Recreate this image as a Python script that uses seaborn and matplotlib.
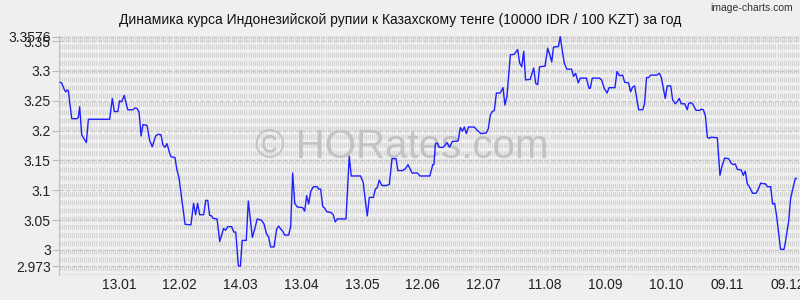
import numpy as np
import pandas as pd
import matplotlib
matplotlib.use("Agg")
import matplotlib.pyplot as plt
import seaborn as sns

# ---- data ----
start_date = "2024-12-15"
days = [0.0, 0.8, 2.1, 2.8, 3.5, 4.1, 5.8, 8.4, 9.0, 9.7, 10.7, 13.0, 14.0, 24.5, 25.8, 26.8,
        28.5, 29.4, 30.4, 31.7, 33.4, 36.0, 37.0, 38.0, 39.0, 40.0, 40.9, 42.9, 44.2, 45.5,
        47.2, 48.5, 49.8, 50.8, 51.8, 52.8, 54.1, 54.8, 56.7, 57.7, 58.7, 61.7, 64.6, 65.9,
        66.9, 67.9, 68.9, 70.9, 71.9, 72.9, 73.8, 74.8, 75.5, 77.5, 78.8, 80.7, 81.7, 82.7,
        84.7, 85.7, 86.7, 88.0, 89.0, 89.9, 91.9, 92.9, 94.9, 96.0, 97.3, 99.3, 100.6, 101.9,
        102.9, 103.9, 105.6, 106.9, 107.9, 108.9, 109.8, 110.8, 112.8, 113.8, 114.8, 115.8,
        117.1, 119.7, 120.7, 121.7, 122.7, 123.7, 125.0, 126.9, 127.6, 128.6, 129.6, 130.6,
        131.6, 133.5, 134.8, 135.8, 136.8, 141.1, 142.7, 143.7, 148.3, 149.6, 150.6, 151.6,
        152.6, 154.6, 155.6, 156.5, 157.5, 158.8, 161.2, 162.5, 163.8, 165.8, 166.7, 169.0,
        170.4, 171.7, 173.7, 176.3, 177.6, 182.5, 183.9, 184.5, 185.2, 186.2, 187.1, 189.1,
        191.0, 192.2, 193.6, 195.9, 196.5, 197.5, 198.5, 199.5, 200.5, 201.5, 204.4, 205.7,
        207.7, 210.3, 211.3, 212.3, 213.3, 214.3, 215.3, 217.2, 218.6, 219.5, 220.5, 222.2,
        224.1, 225.8, 226.8, 227.8, 228.8, 229.7, 232.0, 233.7, 234.7, 235.7, 236.6, 239.3,
        240.6, 241.6, 242.6, 243.5, 245.9, 246.8, 247.5, 248.8, 250.1, 252.4, 253.4, 254.4,
        255.7, 256.7, 259.7, 261.0, 261.6, 262.6, 266.2, 267.2, 268.5, 269.9, 270.9, 273.8,
        274.8, 276.1, 277.6, 278.6, 280.5, 281.5, 282.5, 283.5, 285.5, 287.5, 288.4, 289.4,
        290.4, 291.4, 294.4, 295.7, 296.7, 297.7, 298.6, 299.6, 301.3, 302.3, 303.6, 304.6,
        305.5, 306.5, 308.2, 308.8, 309.5, 310.1, 311.1, 312.1, 313.8, 315.7, 316.4, 317.4,
        318.4, 319.4, 320.3, 321.3, 324.3, 325.6, 326.6, 327.9, 329.9, 331.2, 332.2, 333.2,
        334.2, 336.1, 337.1, 338.1, 339.1, 340.1, 341.7, 343.4, 344.4, 345.7, 347.0, 348.0,
        349.0, 350.6, 351.6, 352.6, 353.6, 355.5, 357.2, 357.8, 359.5, 360.5, 361.8, 362.8,
        363.4]
rates = [3.281, 3.280, 3.269, 3.265, 3.268, 3.267, 3.220, 3.220, 3.222, 3.240, 3.193, 3.180,
         3.219, 3.219, 3.254, 3.232, 3.232, 3.250, 3.248, 3.259, 3.235, 3.235, 3.238, 3.237,
         3.231, 3.191, 3.210, 3.209, 3.184, 3.173, 3.191, 3.194, 3.193, 3.176, 3.172, 3.178,
         3.162, 3.156, 3.155, 3.134, 3.121, 3.043, 3.042, 3.078, 3.059, 3.078, 3.059, 3.059,
         3.083, 3.083, 3.058, 3.057, 3.053, 3.052, 3.014, 3.036, 3.033, 3.039, 3.039, 3.030,
         3.030, 2.973, 2.973, 3.016, 3.016, 3.082, 3.021, 3.034, 3.052, 3.050, 3.044, 3.027,
         3.022, 3.005, 3.005, 3.035, 3.040, 3.035, 3.032, 3.025, 3.025, 3.039, 3.129, 3.078,
         3.072, 3.071, 3.065, 3.091, 3.077, 3.098, 3.106, 3.106, 3.102, 3.102, 3.073, 3.070,
         3.064, 3.063, 3.059, 3.047, 3.052, 3.052, 3.157, 3.124, 3.124, 3.113, 3.084, 3.057,
         3.088, 3.088, 3.102, 3.104, 3.117, 3.108, 3.108, 3.110, 3.153, 3.153, 3.133, 3.133,
         3.136, 3.143, 3.129, 3.129, 3.124, 3.124, 3.143, 3.143, 3.178, 3.179, 3.172, 3.172,
         3.180, 3.172, 3.182, 3.182, 3.184, 3.205, 3.199, 3.206, 3.195, 3.206, 3.206, 3.201,
         3.195, 3.196, 3.203, 3.226, 3.232, 3.234, 3.263, 3.263, 3.272, 3.243, 3.257, 3.327,
         3.328, 3.336, 3.313, 3.307, 3.333, 3.285, 3.286, 3.305, 3.279, 3.277, 3.307, 3.308,
         3.338, 3.328, 3.315, 3.340, 3.341, 3.3576, 3.341, 3.313, 3.303, 3.303, 3.291, 3.296,
         3.280, 3.288, 3.288, 3.271, 3.271, 3.288, 3.288, 3.285, 3.271, 3.263, 3.272, 3.272,
         3.299, 3.292, 3.293, 3.281, 3.280, 3.265, 3.273, 3.275, 3.235, 3.235, 3.245, 3.289,
         3.289, 3.293, 3.293, 3.296, 3.289, 3.271, 3.254, 3.275, 3.275, 3.251, 3.245, 3.249,
         3.254, 3.245, 3.245, 3.240, 3.235, 3.245, 3.247, 3.245, 3.234, 3.234, 3.236, 3.235,
         3.225, 3.189, 3.187, 3.189, 3.188, 3.125, 3.140, 3.154, 3.153, 3.145, 3.143, 3.144,
         3.135, 3.134, 3.125, 3.132, 3.111, 3.106, 3.095, 3.095, 3.101, 3.112, 3.111, 3.111,
         3.106, 3.106, 3.077, 3.078, 3.056, 3.001, 3.001, 3.011, 3.048, 3.087, 3.106, 3.120,
         3.120]
x_tick_labels = ["13.01", "12.02", "14.03", "13.04", "13.05", "12.06",
                 "12.07", "11.08", "10.09", "10.10", "09.11", "09.12"]
tick_year = "2025"
y_tick_values = [2.973, 3.0, 3.05, 3.1, 3.15, 3.2, 3.25, 3.3, 3.35, 3.3576]
y_tick_labels = ["2.973", "3", "3.05", "3.1", "3.15", "3.2", "3.25", "3.3", "3.35", "3.3576"]
title = "Динамика курса Индонезийской рупии к Казахскому тенге (10000 IDR / 100 KZT) за год"
watermark = "© HORates.com"
credit = "image-charts.com"

# ---- styling ----
sns.set_theme(style="white")
bg = "#efefef"
plt.rcParams["font.family"] = ["Liberation Sans", "DejaVu Sans"]
plt.rcParams["lines.scale_dashes"] = False

df = pd.DataFrame({"day": days, "rate": rates})
t0 = pd.Timestamp(start_date)
tick_pos = [(pd.to_datetime(l + "." + tick_year, format="%d.%m.%Y") - t0).days for l in x_tick_labels]

fig = plt.figure(figsize=(8, 3), dpi=100, facecolor=bg)
ax = fig.add_axes([59 / 800, 25 / 300, 741 / 800, 239 / 300], facecolor=bg)

ymin, ymax = 2.958, 3.3586
ax.set_xlim(-0.5, 365.1)
ax.set_ylim(ymin, ymax)

# dense vertical dashed grid (one per day)
grid_days = np.arange(0, int(np.ceil(max(days))) + 2)
ax.vlines(grid_days, ymax, ymin, colors="#d3d3d3", linewidth=0.8,
          linestyles=[(0, (3.4, 2.5))], zorder=1)
# horizontal dashed grid at y ticks
for v in y_tick_values:
    ax.axhline(v, color="#c6c6c6", linewidth=0.8, linestyle=(0, (3.0, 1.6)), zorder=1.2)

ax.text(0.462, 0.535, watermark, transform=ax.transAxes, ha="center", va="center",
        fontsize=29, color="#bdbdbd", alpha=0.85, zorder=2)

sns.lineplot(data=df, x="day", y="rate", ax=ax, color="#1f1fff", linewidth=1.0,
             estimator=None, sort=False, zorder=3)

ax.set_xlabel("")
ax.set_ylabel("")
ax.set_xticks(tick_pos)
ax.set_xticklabels(x_tick_labels, fontsize=10, color="#222222")
ax.set_yticks(y_tick_values)
ax.set_yticklabels(y_tick_labels, fontsize=10, color="#222222")
ax.tick_params(axis="x", length=0, pad=2)
ax.tick_params(axis="y", length=5, width=0.8, color="#bbbbbb", pad=1, left=True)

for s in ["top", "right", "bottom"]:
    ax.spines[s].set_visible(False)
ax.spines["left"].set_color("#c0c0c0")
ax.spines["left"].set_linewidth(0.8)

fig.text(0.5, 1 - 20 / 300, title, ha="center", va="center", fontsize=10, color="#111111")
fig.text(793 / 800, 1 - 8 / 300, credit, ha="right", va="center", fontsize=7.5, color="#333333")

fig.savefig("out.png", dpi=100, facecolor=bg)
